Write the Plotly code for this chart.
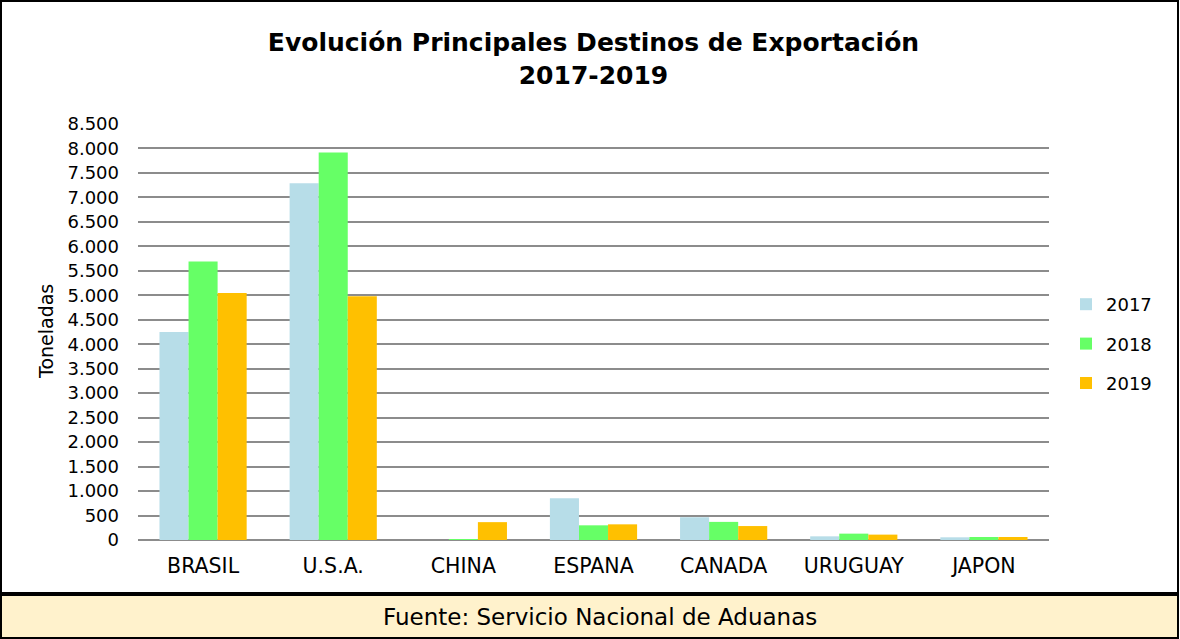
import plotly.graph_objects as go

# Datos (toneladas)
paises = ["BRASIL", "U.S.A.", "CHINA", "ESPANA", "CANADA", "URUGUAY", "JAPON"]
anios = ["2017", "2018", "2019"]
ton_2017 = [4250, 7290, 0, 855, 465, 75, 55]
ton_2018 = [5690, 7920, 20, 300, 370, 130, 62]
ton_2019 = [5045, 4980, 365, 320, 285, 110, 62]
colores = ["#B7DDE8", "#66FF66", "#FFC000"]

titulo = "<b>Evolución Principales Destinos de Exportación<br>2017-2019</b>"
fuente = "Fuente: Servicio Nacional de Aduanas"

W, H = 1180, 639
# plot area in pixels
PL, PR, PT, PB = 138, 1049, 124, 540
FONT = "DejaVu Sans, Liberation Sans, Arial, sans-serif"


def px_x(x):
    return (x - PL) / (PR - PL)


def px_y(y):
    return (PB - y) / (PB - PT)


fig = go.Figure()
for nombre, vals, col in zip(anios, [ton_2017, ton_2018, ton_2019], colores):
    fig.add_trace(go.Bar(
        x=paises, y=vals, name=nombre, legendgroup=nombre,
        marker=dict(color=col, line=dict(width=0)),
    ))

fig.update_layout(
    width=W, height=H,
    margin=dict(l=PL, r=W - PR, t=PT, b=H - PB),
    paper_bgcolor="white", plot_bgcolor="white",
    font=dict(family=FONT, size=17, color="black"),
    separators=",.",
    barmode="group", bargap=0.33, bargroupgap=0,
    showlegend=True,
    legend=dict(x=px_x(1066), y=px_y(344), xanchor="left", yanchor="middle",
                font=dict(size=18), tracegroupgap=13, traceorder="grouped",
                itemwidth=30, bgcolor="rgba(0,0,0,0)"),
    title=dict(text=titulo, x=0.5, xref="paper", xanchor="center",
               y=1 - 51 / H, yanchor="middle",
               font=dict(size=25, color="black")),
)

fig.update_yaxes(
    range=[0, 8500], dtick=500, tickformat=",d",
    showgrid=True, gridcolor="#8C8C8C", gridwidth=1.8,
    zeroline=True, zerolinecolor="#8C8C8C", zerolinewidth=1.8,
    showline=False, ticks="", ticklabelstandoff=18,
    tickfont=dict(size=18),
)
fig.update_xaxes(
    showline=False, ticks="", ticklabelstandoff=11,
    tickfont=dict(size=20.5),
)

fig.add_annotation(
    text="Toneladas", textangle=-90, showarrow=False,
    xref="paper", yref="paper", x=px_x(46), y=px_y(332),
    xanchor="center", yanchor="middle", font=dict(size=19),
)

# outer border of the chart and source box
fig.add_shape(type="rect", xref="paper", yref="paper",
              x0=px_x(1), x1=px_x(1178), y0=px_y(593), y1=px_y(1),
              line=dict(color="black", width=2), layer="below")
fig.add_shape(type="rect", xref="paper", yref="paper",
              x0=px_x(1), x1=px_x(1178), y0=px_y(638), y1=px_y(595),
              line=dict(color="black", width=2), fillcolor="#FFF2CC", layer="below")
fig.add_annotation(
    text=fuente, showarrow=False, xref="paper", yref="paper",
    x=px_x(600), y=px_y(617), xanchor="center", yanchor="middle",
    font=dict(size=23),
)

fig.write_html("out.html", config={"displayModeBar": False},
               post_script="document.body.style.margin='0';")
